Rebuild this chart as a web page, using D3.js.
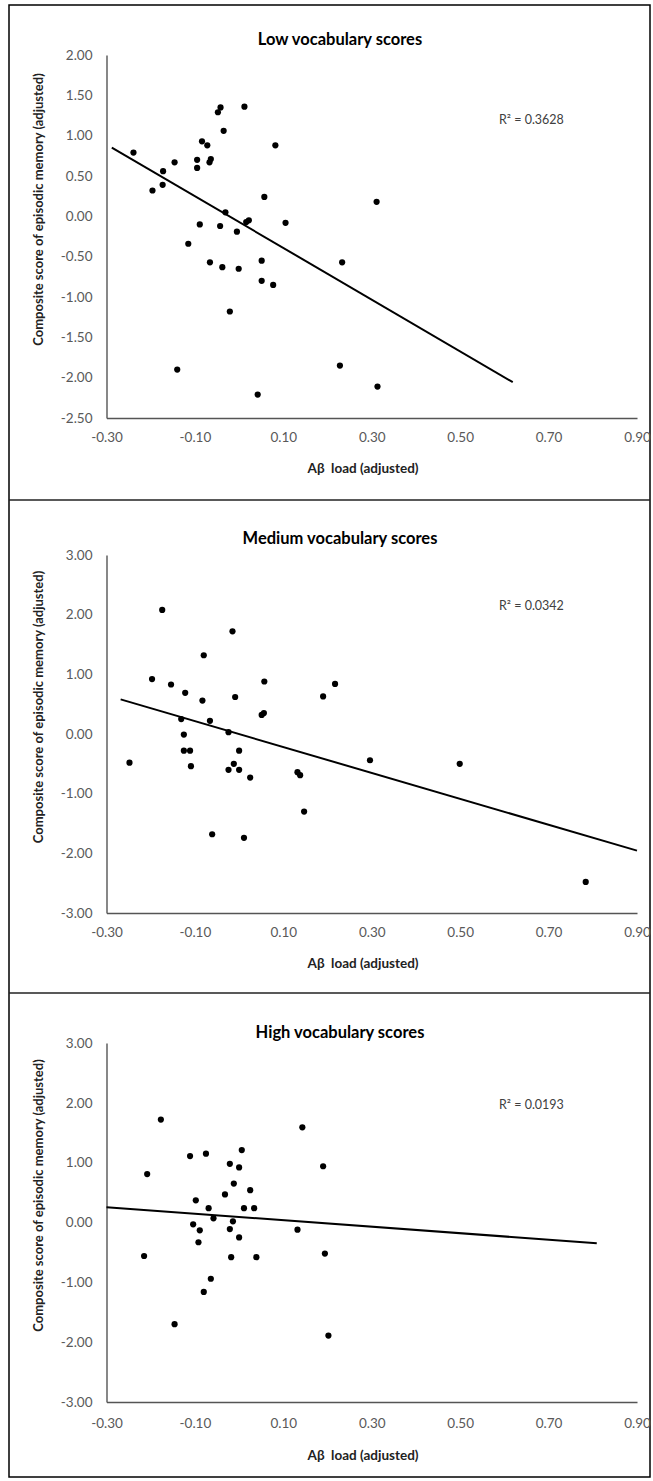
<!DOCTYPE html>
<html><head><meta charset="utf-8">
<script src="https://cdn.jsdelivr.net/npm/d3@7"></script>
<style>body{margin:0;background:#fff}</style>
</head><body>
<svg id="c" width="653" height="1481"></svg>
<script>
// ---- data ----
const xTickValues = [-0.30, -0.10, 0.10, 0.30, 0.50, 0.70, 0.90];
const xDomain = [-0.30, 0.90];
const panelTitles = ["Low vocabulary scores", "Medium vocabulary scores", "High vocabulary scores"];
const r2Labels = ["R\u00B2 = 0.3628", "R\u00B2 = 0.0342", "R\u00B2 = 0.0193"];
const xAxisTitle = "A\u03B2  load (adjusted)";
const yAxisTitle = "Composite score of episodic memory (adjusted)";

const yTicksLow = [2.0, 1.5, 1.0, 0.5, 0.0, -0.5, -1.0, -1.5, -2.0, -2.5];
const yTicksMed = [3, 2, 1, 0, -1, -2, -3];
const yTicksHigh = [3, 2, 1, 0, -1, -2, -3];

const lowX = [-0.239,-0.196,-0.173,-0.172,-0.146,-0.095,-0.095,-0.084,-0.072,-0.067,-0.064,-0.048,-0.042,-0.035,0.012,0.082,0.057,-0.031,-0.089,-0.043,-0.005,0.016,0.022,0.105,-0.115,0.311,-0.066,-0.038,-0.001,0.051,0.051,0.077,-0.021,-0.140,0.042,0.233,0.228,0.313];
const lowY = [0.79,0.32,0.39,0.56,0.67,0.70,0.60,0.93,0.88,0.67,0.71,1.29,1.35,1.06,1.36,0.88,0.24,0.05,-0.10,-0.12,-0.19,-0.07,-0.05,-0.08,-0.34,0.18,-0.57,-0.63,-0.65,-0.55,-0.80,-0.85,-1.18,-1.90,-2.21,-0.57,-1.85,-2.11];

const medX = [-0.174,-0.015,-0.080,-0.197,-0.154,-0.122,-0.083,-0.009,0.057,0.051,0.056,-0.131,-0.066,-0.024,-0.125,0.190,0.217,-0.248,-0.125,-0.111,-0.109,0.000,-0.012,-0.024,0.000,0.025,0.132,0.138,0.147,-0.061,0.011,0.296,0.499,0.784];
const medY = [2.08,1.72,1.32,0.92,0.83,0.69,0.56,0.62,0.88,0.32,0.35,0.25,0.22,0.03,-0.01,0.63,0.84,-0.48,-0.28,-0.28,-0.54,-0.28,-0.50,-0.60,-0.60,-0.73,-0.64,-0.69,-1.30,-1.68,-1.74,-0.44,-0.50,-2.48];

const highX = [-0.177,-0.208,-0.111,-0.075,0.006,-0.021,0.000,-0.012,0.025,-0.032,-0.098,-0.069,0.011,0.034,-0.058,-0.014,-0.104,-0.089,-0.021,0.000,0.132,0.143,0.190,-0.092,-0.215,-0.018,0.039,-0.064,-0.080,-0.146,0.194,0.202];
const highY = [1.72,0.81,1.11,1.15,1.21,0.98,0.92,0.65,0.54,0.47,0.37,0.24,0.24,0.24,0.07,0.02,-0.03,-0.13,-0.11,-0.25,-0.12,1.59,0.94,-0.33,-0.56,-0.58,-0.58,-0.94,-1.16,-1.70,-0.52,-1.89];

const lowTrendX = [-0.288, 0.619];
const lowTrendY = [0.852, -2.056];
const medTrendX = [-0.268, 0.900];
const medTrendY = [0.58, -1.955];
const highTrendX = [-0.300, 0.809];
const highTrendY = [0.256, -0.347];

// ---- layout ----
const plotLeft = 106.5, plotRight = 637;
const panels = [
  {xs: lowX, ys: lowY, tx: lowTrendX, ty: lowTrendY, yTicks: yTicksLow, yDomain: [-2.5, 2.0],
   plotTop: 55, plotBottom: 418, titleY: 39, r2Y: 120, xTickPad: 14, xTitleOff: 50},
  {xs: medX, ys: medY, tx: medTrendX, ty: medTrendY, yTicks: yTicksMed, yDomain: [-3, 3],
   plotTop: 555, plotBottom: 913, titleY: 538, r2Y: 606, xTickPad: 14, xTitleOff: 50},
  {xs: highX, ys: highY, tx: highTrendX, ty: highTrendY, yTicks: yTicksHigh, yDomain: [-3, 3],
   plotTop: 1043, plotBottom: 1402, titleY: 1032, r2Y: 1105, xTickPad: 16, xTitleOff: 53}
];

const svg = d3.select("#c");
const FONT = "Lato, 'Open Sans', sans-serif";

// frame
svg.append("rect").attr("x", 9).attr("y", 5).attr("width", 641).attr("height", 1472)
  .attr("fill", "none").attr("stroke", "#000").attr("stroke-width", 1.5);
[500, 993].forEach(yy => svg.append("line").attr("x1", 9).attr("x2", 650).attr("y1", yy).attr("y2", yy)
  .attr("stroke", "#222").attr("stroke-width", 1.5));

const fmt = d => d.toFixed(2);

panels.forEach((p, i) => {
  const x = d3.scaleLinear().domain(xDomain).range([plotLeft, plotRight]);
  const y = d3.scaleLinear().domain(p.yDomain).range([p.plotBottom, p.plotTop]);
  const g = svg.append("g");

  const ya = g.append("g").attr("transform", `translate(${plotLeft},0)`)
    .call(d3.axisLeft(y).tickValues(p.yTicks).tickSize(0).tickSizeOuter(0).tickPadding(14).tickFormat(fmt));
  const xa = g.append("g").attr("transform", `translate(0,${p.plotBottom})`)
    .call(d3.axisBottom(x).tickValues(xTickValues).tickSize(0).tickSizeOuter(0).tickPadding(p.xTickPad).tickFormat(fmt));
  [ya, xa].forEach(a => {
    a.select(".domain").attr("stroke", "#555").attr("stroke-width", 1.4);
    a.selectAll("text").attr("fill", "#595959").style("font-family", FONT).style("font-size", "13.5px");
  });

  const pts = p.tx.map((v, k) => [v, p.ty[k]]);
  g.append("path").datum(pts)
    .attr("d", d3.line().x(d => x(d[0])).y(d => y(d[1])))
    .attr("fill", "none").attr("stroke", "#000").attr("stroke-width", 2);

  g.selectAll("circle.pt").data(p.xs.map((v, k) => [v, p.ys[k]])).join("circle")
    .attr("class", "pt")
    .attr("cx", d => x(d[0])).attr("cy", d => y(d[1])).attr("r", 3.1).attr("fill", "#000");

  g.append("text").attr("x", 340).attr("y", p.titleY).attr("dy", "0.35em")
    .attr("text-anchor", "middle").style("font-family", FONT).style("font-weight", "bold")
    .style("font-size", "16.5px").attr("fill", "#000").text(panelTitles[i]);

  g.append("text").attr("x", 499).attr("y", p.r2Y).attr("dy", "0.35em")
    .style("font-family", FONT).style("font-size", "12.5px").attr("fill", "#404040").text(r2Labels[i]);

  g.append("text").attr("x", 363).attr("y", p.plotBottom + p.xTitleOff).attr("dy", "0.35em")
    .attr("text-anchor", "middle").style("font-family", FONT).style("font-weight", "bold")
    .style("white-space", "pre")
    .style("font-size", "13.5px").attr("fill", "#222").text(xAxisTitle);

  const cy = (p.plotTop + p.plotBottom) / 2 - 27;
  g.append("text").attr("transform", `translate(38,${cy}) rotate(-90)`).attr("dy", "0.35em")
    .attr("text-anchor", "middle").style("font-family", FONT).style("font-weight", "bold")
    .style("font-size", "13px").attr("fill", "#222").text(yAxisTitle);
});
</script>
</body></html>
